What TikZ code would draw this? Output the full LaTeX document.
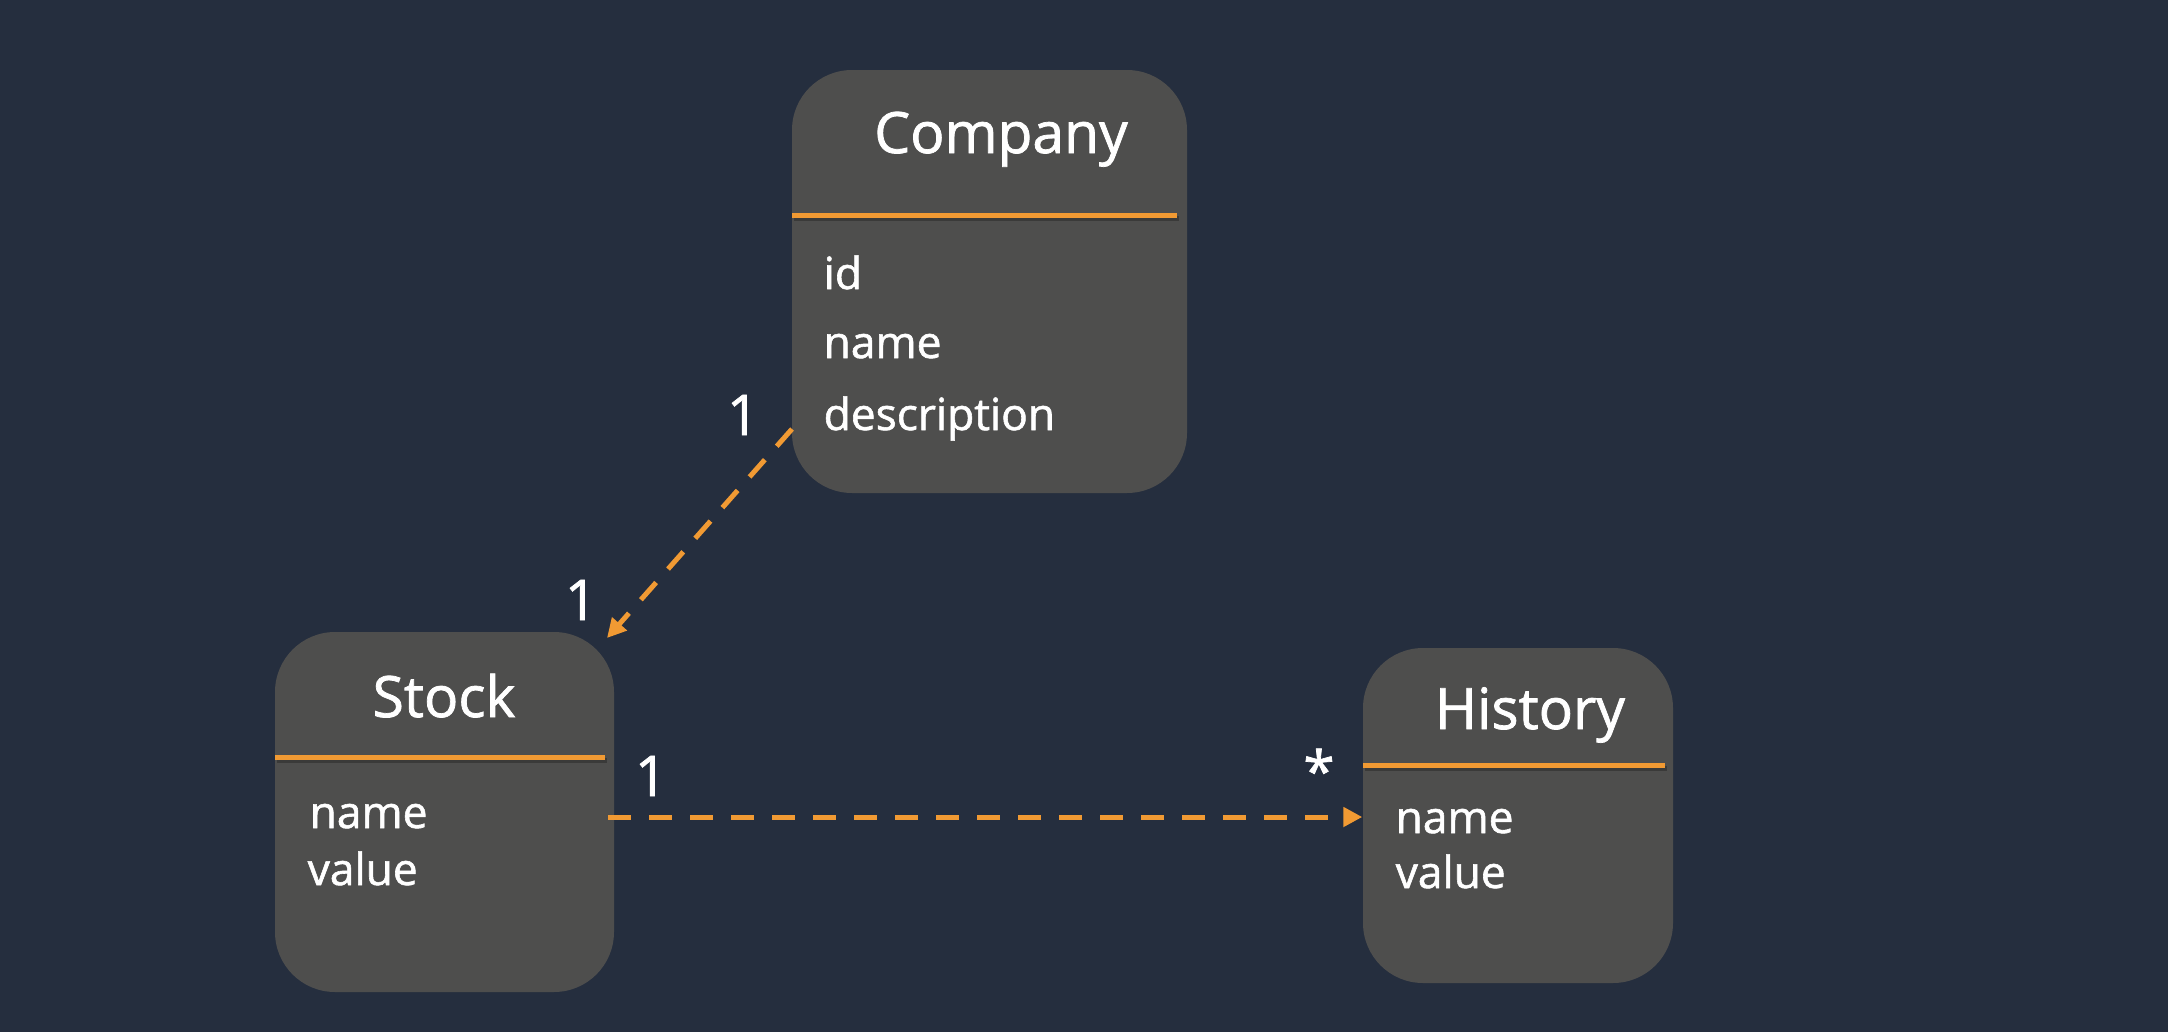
\documentclass[tikz,border=0pt]{standalone}
\usepackage{fontspec}
\setmainfont{Open Sans}
\newfontfamily\umlfont{Open Sans}[FakeBold=1.3]
\usetikzlibrary{arrows.meta}
\definecolor{bgnavy}{HTML}{252E3E}
\definecolor{boxgrey}{HTML}{4E4E4D}
\definecolor{umlorange}{HTML}{F19A33}

\begin{document}
\begin{tikzpicture}[x=0.1mm,y=-0.1mm,
    classbox/.style={fill=boxgrey,rounded corners=6mm,inner sep=0pt},
    title/.style={anchor=base,text=white,inner sep=0pt,font=\umlfont\fontsize{16.2}{18}\selectfont},
    field/.style={anchor=base west,text=white,inner sep=0pt,font=\umlfont\fontsize{12.6}{15}\selectfont},
    mult/.style={text=white,font=\umlfont\fontsize{16}{18}\selectfont},
    divider/.style={umlorange,line width=0.5mm},
    assoc/.style={umlorange,line width=0.5mm,dash pattern=on 2.3mm off 1.8mm,
      -{Triangle[length=1.9mm,width=1.9mm]}}]
    \fill[bgnavy] (0,0) rectangle (2168,1032);
    \useasboundingbox (0,0) rectangle (2168,1032);
    % company
    \node (company) [classbox,minimum width=39.5mm,minimum height=42.3mm] at (989.5,281.5) {};
    \node (ctitle) [title] at (1001,153) {Company};
    \draw[black,opacity=0.25,line width=0.5mm] (794,218) -- (1179,218);
    \draw[divider] (792,215) -- (1177,215);
    \node (cid) [field] at (823,289) {id};
    \node (cname) [field] at (823,358) {name};
    \node (cdesc) [field] at (823,430) {description};
    % stock
    \node (stock) [classbox,minimum width=33.9mm,minimum height=36mm] at (444.5,812) {};
    \node (stitle) [title] at (444,717) {Stock};
    \draw[black,opacity=0.25,line width=0.5mm] (277,760) -- (607,760);
    \draw[divider] (275,757) -- (605,757);
    \node (sname) [field] at (309,828) {name};
    \node (svalue) [field] at (307,885) {value};
    % history
    \node (history) [classbox,minimum width=31mm,minimum height=33.5mm] at (1518,815.5) {};
    \node (htitle) [title] at (1530,729) {History};
    \draw[black,opacity=0.25,line width=0.5mm] (1365,768) -- (1667,768);
    \draw[divider] (1363,765) -- (1665,765);
    \node (hname) [field] at (1395,833) {name};
    \node (hvalue) [field] at (1395,888) {value};
    % associations
    \coordinate (cout) at (792,429);
    \coordinate (sin) at (607,638);
    \coordinate (sout) at (608,817);
    \draw[assoc] (cout) -- (sin);
    \draw[assoc] (sout) -- (sout -| history.west);
    \node (m1) [mult] at (743,415) {1};
    \node (m2) [mult] at (581,600) {1};
    \node (m3) [mult] at (651,776) {1};
    \node (m4) [mult] at (1319,770) {*};
  \end{tikzpicture}
\end{document}
